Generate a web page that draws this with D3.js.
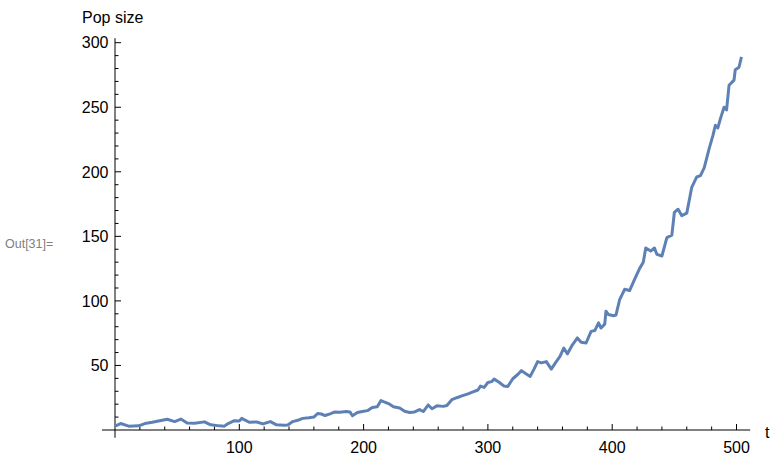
<!DOCTYPE html>
<html>
<head>
<meta charset="utf-8">
<script src="https://cdn.jsdelivr.net/npm/d3@7"></script>
<style>
  html, body { margin: 0; padding: 0; background: #fff; }
  svg { display: block; font-family: "Liberation Sans", Arial, sans-serif; }
</style>
</head>
<body>
<svg id="chart" width="770" height="457"></svg>
<script>
// ---- data ----
const tValues = [0, 4.6, 11, 19, 24, 30, 35, 42, 48, 53, 58, 64, 72, 77, 84, 88, 91, 96, 100, 102,
  108, 114, 119, 125, 130, 136, 139, 143, 147, 151, 156, 160, 163, 166, 169, 173, 177, 181, 186, 189,
  191, 195, 199, 203, 207, 211, 214, 216, 220, 224, 229, 233, 237, 241, 245, 248, 252, 255, 259, 264,
  267, 271, 275, 279, 284, 288, 292, 294, 297, 300, 303, 305, 309, 313, 316, 320, 324, 327, 330, 334,
  337, 340, 343, 347, 351, 355, 358, 361, 364, 368, 372, 375, 379, 383, 386, 389, 391, 394, 395, 397,
  401, 403, 406, 410, 414, 418, 422, 425, 427, 431, 434, 436, 440, 444, 448, 450, 453, 456, 460, 464,
  468, 471, 474, 478, 481, 483, 485, 487, 490, 492, 494, 498, 499, 502, 504];
const popValues = [3, 5, 3, 3.2, 5, 6, 7, 8.3, 6.5, 8.5, 5.5, 5.2, 6.3, 4, 3.2, 3, 5, 7.2, 7, 9,
  6, 6.2, 4.7, 6.5, 4, 3.6, 3.9, 6.5, 7.5, 9, 9.5, 10, 12.8, 12.4, 11.2, 12.5, 14, 13.8, 14.3, 14,
  11, 13.5, 14.3, 15, 17.5, 18, 22.8, 22, 20.5, 18, 17, 14.5, 13.5, 14, 15.8, 14.3, 19.4, 16.5, 18.7, 18.3,
  19, 23.5, 25, 26.4, 28, 29.5, 31, 34, 33, 36.8, 37.5, 39.4, 37, 34, 33.7, 39.7, 43, 46, 44, 41.5,
  47, 53, 52, 53, 47.2, 53, 57, 63.5, 59, 66, 71.3, 68, 67.4, 76.4, 77, 83, 79, 82, 92, 89.4,
  88.5, 89, 101, 109, 108, 116.6, 125, 130, 141, 138.6, 141, 136, 134.8, 149, 151, 168.5, 171, 166, 168, 188,
  196, 197, 203, 218, 228, 236, 234, 241, 250, 248, 267, 271, 279, 281, 289];
const xTicks = [100, 200, 300, 400, 500];
const yTicks = [50, 100, 150, 200, 250, 300];
const xMinorTicks = d3.range(20, 511, 20).filter(v => v % 100 !== 0);
const yMinorTicks = d3.range(10, 301, 10).filter(v => v % 50 !== 0);
const xLabel = "t";
const yLabel = "Pop size";
const outLabel = "Out[31]=";

// ---- scales ----
const x = d3.scaleLinear().domain([0, 500]).range([115, 736.5]);
const y = d3.scaleLinear().domain([0, 300]).range([430, 42.7]);

const svg = d3.select("#chart");

// axes lines
svg.append("line")
  .attr("x1", x(-10.5)).attr("x2", x(511))
  .attr("y1", y(0)).attr("y2", y(0))
  .attr("stroke", "#000").attr("stroke-width", 1);
svg.append("line")
  .attr("x1", x(0)).attr("x2", x(0))
  .attr("y1", y(-6)).attr("y2", y(303.5))
  .attr("stroke", "#000").attr("stroke-width", 1);

// x ticks
svg.append("g").selectAll("line.xmaj").data(xTicks).join("line")
  .attr("x1", d => x(d)).attr("x2", d => x(d))
  .attr("y1", y(0)).attr("y2", y(0) - 6)
  .attr("stroke", "#000").attr("stroke-width", 1);
svg.append("g").selectAll("line.xmin").data(xMinorTicks).join("line")
  .attr("x1", d => x(d)).attr("x2", d => x(d))
  .attr("y1", y(0)).attr("y2", y(0) - 3.5)
  .attr("stroke", "#000").attr("stroke-width", 1);
svg.append("g").selectAll("text").data(xTicks).join("text")
  .attr("x", d => x(d)).attr("y", 453)
  .attr("text-anchor", "middle")
  .attr("font-size", 16)
  .text(d => d);

// y ticks
svg.append("g").selectAll("line.ymaj").data(yTicks).join("line")
  .attr("x1", x(0)).attr("x2", x(0) + 6)
  .attr("y1", d => y(d)).attr("y2", d => y(d))
  .attr("stroke", "#000").attr("stroke-width", 1);
svg.append("g").selectAll("line.ymin").data(yMinorTicks).join("line")
  .attr("x1", x(0)).attr("x2", x(0) + 3.5)
  .attr("y1", d => y(d)).attr("y2", d => y(d))
  .attr("stroke", "#000").attr("stroke-width", 1);
svg.append("g").selectAll("text").data(yTicks).join("text")
  .attr("x", 108.5).attr("y", d => y(d) + 5.7)
  .attr("text-anchor", "end")
  .attr("font-size", 16)
  .text(d => d);

// axis labels
svg.append("text").attr("x", 82).attr("y", 23.3).attr("font-size", 16).text(yLabel);
svg.append("text").attr("x", 765).attr("y", 437.5).attr("font-size", 16).text(xLabel);
svg.append("text").attr("x", 5).attr("y", 247.5).attr("font-size", 12.5).attr("fill", "#808080").text(outLabel);

// data line
const pts = tValues.map((t, i) => [t, popValues[i]]);
svg.append("path")
  .datum(pts)
  .attr("fill", "none")
  .attr("stroke", "#5e81b5")
  .attr("stroke-width", 3)
  .attr("stroke-linejoin", "round")
  .attr("d", d3.line().x(d => x(d[0])).y(d => y(d[1])));
</script>
</body>
</html>
